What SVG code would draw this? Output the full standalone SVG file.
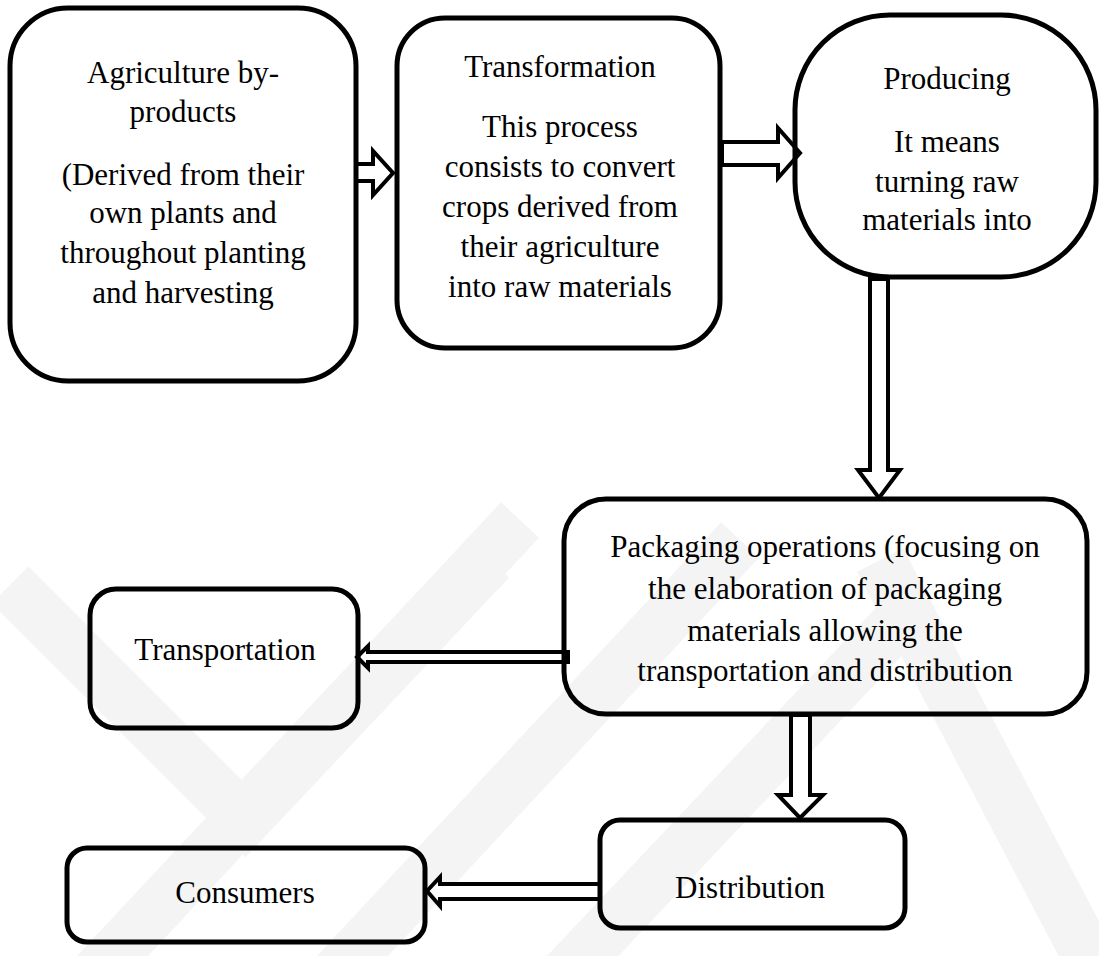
<svg xmlns="http://www.w3.org/2000/svg" width="1099" height="956" viewBox="0 0 1099 956">
  <style>
    .box { fill: none; stroke: #000; stroke-width: 5; }
    .arrow { fill: #fff; stroke: #000; stroke-width: 4; stroke-linejoin: miter; }
    .label { font-family: "Liberation Serif", "Times New Roman", serif; font-size: 31px; fill: #000; text-anchor: middle; }
    .mark { fill: none; stroke: #f4f4f4; stroke-width: 52; stroke-linecap: butt; stroke-linejoin: miter; }
  </style>
  <rect width="1099" height="956" fill="#fff"/>

  <!-- faint background emblem -->
  <g id="emblem">
    <polyline class="mark" points="10,585 245,820 490,560"/>
    <line class="mark" x1="90" y1="980" x2="520" y2="520"/>
    <line class="mark" x1="330" y1="980" x2="740" y2="540"/>
    <line class="mark" x1="560" y1="980" x2="900" y2="620"/>
    <line class="mark" x1="880" y1="560" x2="1090" y2="960"/>
  </g>

  <g id="connectors">
    <!-- agriculture to transformation -->
    <polygon class="arrow" points="356,164 373,164 373,151 393,173 373,195 373,181 356,181"/>
    <!-- transformation to producing -->
    <polygon class="arrow" points="722,142 778,142 778,128 800,153 778,178 778,165 722,165"/>
    <!-- producing to packaging -->
    <polygon class="arrow" points="870,279 888,279 888,470 900,470 879,498 858,470 870,470"/>
    <!-- packaging to distribution -->
    <polygon class="arrow" points="791,715 810,715 810,795 823,795 800,818 778,795 791,795"/>
    <!-- packaging to transportation -->
    <polygon class="arrow" points="568,652 368,652 368,646 357,657 368,668 368,662 568,662"/>
    <!-- distribution to consumers -->
    <polygon class="arrow" points="600,884 440,884 440,877 427,891 440,906 440,899 600,899"/>
  </g>

  <g id="agriculture">
    <rect class="box" x="10" y="8" width="346" height="373" rx="58" ry="58"/>
    <text class="label" x="183" y="83">Agriculture by-</text>
    <text class="label" x="183" y="122">products</text>
    <text class="label" x="183" y="185">(Derived from their</text>
    <text class="label" x="183" y="223">own plants and</text>
    <text class="label" x="183" y="263">throughout planting</text>
    <text class="label" x="183" y="303">and harvesting</text>
  </g>

  <g id="transformation">
    <rect class="box" x="397" y="18" width="323" height="330" rx="48" ry="48"/>
    <text class="label" x="560" y="77">Transformation</text>
    <text class="label" x="560" y="137">This process</text>
    <text class="label" x="560" y="177">consists to convert</text>
    <text class="label" x="560" y="217">crops derived from</text>
    <text class="label" x="560" y="257">their agriculture</text>
    <text class="label" x="560" y="297">into raw materials</text>
  </g>

  <g id="producing">
    <rect class="box" x="795" y="15" width="301" height="262" rx="95" ry="95"/>
    <text class="label" x="947" y="89">Producing</text>
    <text class="label" x="947" y="152">It means</text>
    <text class="label" x="947" y="192">turning raw</text>
    <text class="label" x="947" y="230">materials into</text>
  </g>

  <g id="packaging">
    <rect class="box" x="564" y="499" width="523" height="215" rx="42" ry="42"/>
    <text class="label" x="825" y="557">Packaging operations (focusing on</text>
    <text class="label" x="825" y="599">the elaboration of packaging</text>
    <text class="label" x="825" y="641">materials allowing the</text>
    <text class="label" x="825" y="681">transportation and distribution</text>
  </g>

  <g id="transportation">
    <rect class="box" x="90" y="589" width="268" height="139" rx="26" ry="26"/>
    <text class="label" x="225" y="660">Transportation</text>
  </g>

  <g id="distribution">
    <rect class="box" x="600" y="820" width="305" height="108" rx="20" ry="20"/>
    <text class="label" x="750" y="898">Distribution</text>
  </g>

  <g id="consumers">
    <rect class="box" x="67" y="848" width="358" height="94" rx="20" ry="20"/>
    <text class="label" x="245" y="903">Consumers</text>
  </g>
</svg>
